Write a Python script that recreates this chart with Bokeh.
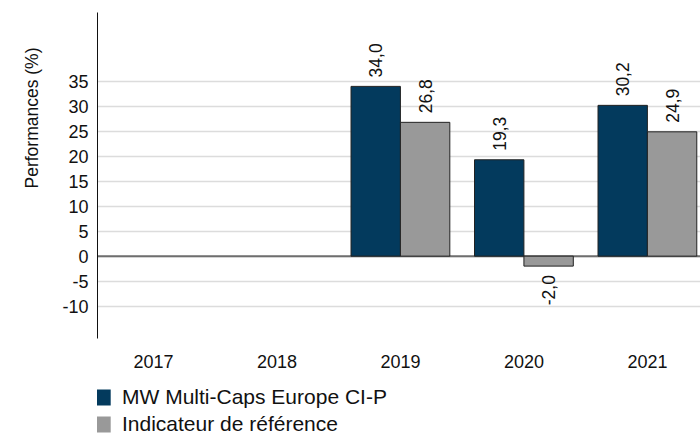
from math import pi
from bokeh.plotting import figure
from bokeh.layouts import column
from bokeh.models import (ColumnDataSource, Range1d, FixedTicker, Legend,
                          LegendItem, Span, Title)
from bokeh.core.properties import value
from bokeh.transform import dodge
from bokeh.embed import file_html
from bokeh.resources import INLINE

# ---- data ----
years = ["2017", "2018", "2019", "2020", "2021"]
fund = [None, None, 34.0, 19.3, 30.2]
bench = [None, None, 26.8, -2.0, 24.9]
y_ticks = [-10, -5, 0, 5, 10, 15, 20, 25, 30, 35]
series_names = ["MW Multi-Caps Europe CI-P", "Indicateur de référence"]
colors = ["#033a5d", "#999999"]
baseline = 0

FONT = "Liberation Sans"
TXT = "#111111"

p = figure(width=700, height=375, output_backend="svg", toolbar_location=None,
           x_range=Range1d(-0.453, 4.43), y_range=Range1d(-16.5, 48.8),
           min_border_top=12, min_border_bottom=37, min_border_right=0,
           min_border_left=97)
p.outline_line_color = None
p.background_fill_color = "white"
p.border_fill_color = "white"

p.xgrid.visible = False
p.ygrid.grid_line_color = "#dcdcdc"
p.ygrid.grid_line_width = 1.5

# x axis
p.xaxis.ticker = FixedTicker(ticks=list(range(len(years))))
p.xaxis.major_label_overrides = {i: y for i, y in enumerate(years)}
p.xaxis.axis_line_color = None
p.xaxis.major_tick_line_color = None
p.xaxis.minor_tick_line_color = None
p.xaxis.major_tick_out = 0
p.xaxis.major_tick_in = 0
p.xaxis.minor_tick_out = 0
p.xaxis.major_label_standoff = 16
p.xaxis.major_label_text_font = FONT
p.xaxis.major_label_text_font_size = "18px"
p.xaxis.major_label_text_color = TXT

# y axis
p.yaxis.ticker = FixedTicker(ticks=y_ticks)
p.yaxis.major_label_overrides = {t: str(t) for t in y_ticks}
p.yaxis.axis_line_color = "#111111"
p.yaxis.axis_line_width = 1
p.yaxis.major_tick_line_color = None
p.yaxis.minor_tick_line_color = None
p.yaxis.major_tick_out = 0
p.yaxis.major_tick_in = 0
p.yaxis.minor_tick_out = 0
p.yaxis.major_label_standoff = 9
p.yaxis.major_label_text_font = FONT
p.yaxis.major_label_text_font_size = "18px"
p.yaxis.major_label_text_color = TXT

p.add_layout(Title(text="Performances (%)", align="left", offset=150,
                   text_font=FONT, text_font_size="17.5px",
                   text_font_style="normal", text_color=TXT, standoff=36),
             "left")

# zero line
p.add_layout(Span(location=baseline, dimension="width", line_color="#6e6e6e",
                  line_width=2, level="underlay"))

idx = list(range(len(years)))
width = 0.4
sources = []
for vals, color, off in zip([fund, bench], colors, [-0.2, 0.2]):
    xs = [i for i, v in zip(idx, vals) if v is not None]
    vs = [v for v in vals if v is not None]
    labels = [f"{v:.1f}".replace(".", ",") for v in vs]
    src = ColumnDataSource(dict(x=xs, top=vs))
    sources.append(src)
    p.vbar(x=dodge("x", off, range=p.x_range), top="top", bottom=baseline,
           width=width, source=src, fill_color=color, line_color="#222222",
           line_width=1)
    pos = ColumnDataSource(dict(x=[x for x, v in zip(xs, vs) if v >= 0],
                                y=[v for v in vs if v >= 0],
                                label=[l for l, v in zip(labels, vs) if v >= 0]))
    neg = ColumnDataSource(dict(x=[x for x, v in zip(xs, vs) if v < 0],
                                y=[v for v in vs if v < 0],
                                label=[l for l, v in zip(labels, vs) if v < 0]))
    p.text(x=dodge("x", off, range=p.x_range), y="y", text="label", source=pos,
           angle=pi / 2, text_align="left", text_baseline="middle", y_offset=-9,
           text_font=value(FONT), text_font_size="17.5px", text_color=TXT)
    p.text(x=dodge("x", off, range=p.x_range), y="y", text="label", source=neg,
           angle=pi / 2, text_align="right", text_baseline="middle", y_offset=9,
           text_font=value(FONT), text_font_size="17.5px", text_color=TXT)

# ---- legend strip below the chart ----
pl = figure(width=700, height=59, output_backend="svg", toolbar_location=None,
            x_range=Range1d(0, 1), y_range=Range1d(0, 1),
            x_axis_location=None, y_axis_location=None,
            min_border=0, min_border_left=0, min_border_right=0,
            min_border_top=0, min_border_bottom=0)
pl.outline_line_color = None
pl.grid.visible = False
proxies = []
for src, c in zip(sources, colors):
    r = pl.quad(left="x", right="x", top="top", bottom="top", source=src,
                fill_color=c, line_color=None)
    r.visible = False
    proxies.append(r)
legend = Legend(items=[LegendItem(label=n, renderers=[r]) for n, r in zip(series_names, proxies)],
                location=(-12, -2), orientation="vertical", padding=0, margin=0,
                spacing=3, glyph_width=28, glyph_height=20, label_standoff=9,
                label_height=20, label_text_font=FONT, label_text_font_size="21px",
                label_text_color=TXT, border_line_color=None,
                background_fill_alpha=0, inactive_fill_alpha=0)
pl.add_layout(legend, "center")

layout = column(p, pl, spacing=0)
open("out.html", "w").write(file_html(layout, INLINE))
